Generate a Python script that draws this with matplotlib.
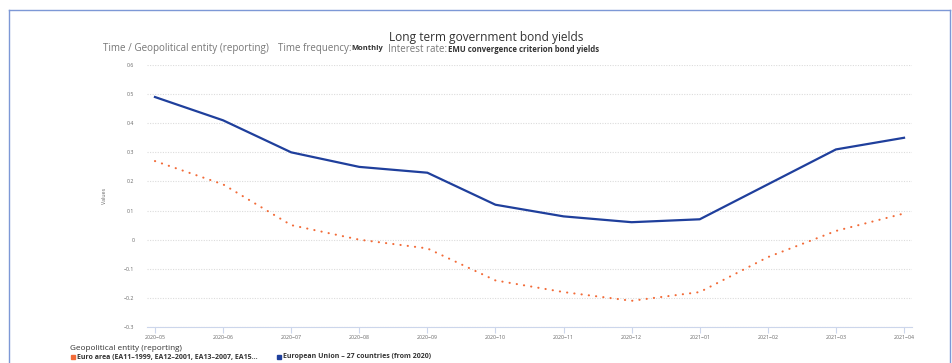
import matplotlib.pyplot as plt
from matplotlib.lines import Line2D
from matplotlib.patches import Rectangle

# dados
meses = ['2020-05', '2020-06', '2020-07', '2020-08', '2020-09', '2020-10',
         '2020-11', '2020-12', '2021-01', '2021-02', '2021-03', '2021-04']
euro_area = [0.27, 0.19, 0.05, 0.00, -0.03, -0.14, -0.18, -0.21, -0.18, -0.06, 0.03, 0.09]
ue27 = [0.49, 0.41, 0.30, 0.25, 0.23, 0.12, 0.08, 0.06, 0.07, 0.19, 0.31, 0.35]
y_ticks = [0.6, 0.5, 0.4, 0.3, 0.2, 0.1, 0, -0.1, -0.2, -0.3]

LARG, ALT = 953, 363
cor_laranja = '#f26b38'
cor_azul = '#1f3f9c'
fonte = 'Open Sans'

fig = plt.figure(figsize=(LARG / 100, ALT / 100), dpi=100)
plt.rcParams['font.family'] = [fonte, 'DejaVu Sans']


def px(x, y):
    # pixel (topo-esquerda) -> coordenadas da figura
    return x / LARG, 1 - y / ALT


# moldura azul
topo = px(0, 10)[1]
for xs, ys in [([9, 9], [0, topo]), ([950, 950], [0, topo]), ([9, 950], [topo, topo])]:
    fig.add_artist(Line2D([v / LARG for v in xs], ys, color='#7d98d6', lw=1))

l, r = 147, 912
t, b = 65, 327
ax = fig.add_axes([l / LARG, 1 - b / ALT, (r - l) / LARG, (b - t) / ALT])
ax.patch.set_alpha(0)

x = list(range(len(meses)))
ax.plot(x, ue27, color=cor_azul, lw=1.6, zorder=3)
ax.plot(x, euro_area, color=cor_laranja, lw=1.5, linestyle=(0, (0.1, 3.4)),
        dash_capstyle='round', zorder=3)

ax.set_xlim(-0.117, len(meses) - 1 + 0.117)
ax.set_ylim(-0.3, 0.6)
ax.set_yticks(y_ticks)
ax.set_yticklabels([('%g' % v).replace('-', '−') for v in y_ticks])
ax.set_xticks(x)
ax.set_xticklabels([m.replace('-', '−') for m in meses])
ax.tick_params(axis='y', length=0, labelsize=3.8, labelcolor='#666666', pad=9)
ax.tick_params(axis='x', length=4, width=0.8, color='#ccd6eb', labelsize=3.8,
               labelcolor='#666666', pad=2)
ax.grid(axis='y', color='#dcdcdc', lw=0.8, linestyle=(0, (1, 1.3)))
for lado in ['top', 'right', 'left']:
    ax.spines[lado].set_visible(False)
ax.spines['bottom'].set_color('#ccd6eb')
ax.spines['bottom'].set_linewidth(0.8)
ax.set_ylabel('Values', fontsize=3.8, color='#666666', labelpad=12)

# titulos
fig.text(*px(486, 38), 'Long term government bond yields', fontsize=8.6, color='#333333',
         ha='center', va='center')
fig.text(*px(103, 49), 'Time / Geopolitical entity (reporting)', fontsize=7.1,
         color='#777777', ha='left', va='center')
fig.text(*px(278, 49), 'Time frequency:', fontsize=7.0, color='#777777', ha='left', va='center')
fig.text(*px(351, 49), 'Monthly', fontsize=5.4, color='#333333', fontweight='bold',
         ha='left', va='center')
fig.text(*px(388, 49), 'Interest rate:', fontsize=7.0, color='#777777', ha='left', va='center')
fig.text(*px(448, 49), 'EMU convergence criterion bond yields', fontsize=5.6,
         color='#333333', fontweight='bold', ha='left', va='center')

# legenda
fig.text(*px(70, 348), 'Geopolitical entity (reporting)', fontsize=5.9, color='#333333',
         ha='left', va='center')
for xq, cor, rotulo in [(71, cor_laranja, 'Euro area (EA11–1999, EA12–2001, EA13–2007, EA15...'),
                        (277, cor_azul, 'European Union – 27 countries (from 2020)')]:
    fig.add_artist(Rectangle(px(xq, 359), 4 / LARG, 4 / ALT, color=cor, transform=fig.transFigure))
    fig.text(*px(xq + 6, 357), rotulo, fontsize=5.0, color='#333333', fontweight='bold',
             ha='left', va='center')

fig.savefig('out.png', dpi=100)
